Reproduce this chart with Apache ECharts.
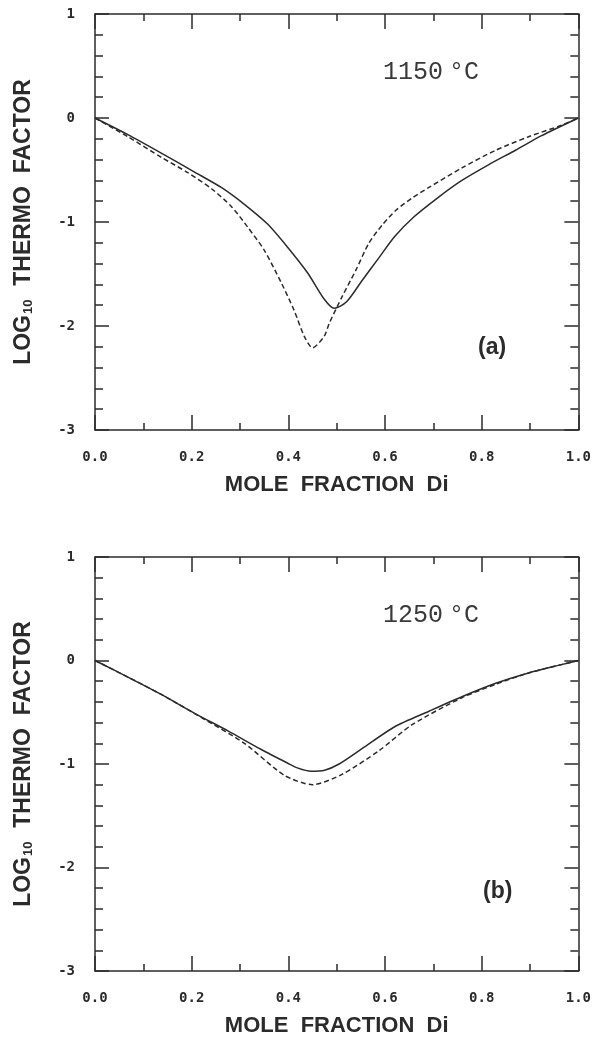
<!DOCTYPE html>
<html>
<head>
<meta charset="utf-8">
<script src="https://cdn.jsdelivr.net/npm/echarts@6/dist/echarts.min.js"></script>
<style>
  html, body { margin: 0; padding: 0; background: #fff; }
  #chart { width: 594px; height: 1039px; }
</style>
</head>
<body>
<div id="chart"></div>
<script>
// panel (a) 1150 C
const aSolidX = [0, 0.068, 0.138, 0.206, 0.262, 0.309, 0.357, 0.398, 0.44, 0.474, 0.495, 0.52, 0.553, 0.588, 0.62, 0.66, 0.711, 0.759, 0.814, 0.87, 0.924, 1.0];
const aSolidY = [0, -0.16, -0.34, -0.52, -0.67, -0.83, -1.02, -1.24, -1.49, -1.74, -1.83, -1.77, -1.56, -1.34, -1.14, -0.95, -0.76, -0.60, -0.45, -0.31, -0.17, 0];
const aDashX = [0, 0.068, 0.138, 0.19, 0.241, 0.282, 0.316, 0.35, 0.386, 0.412, 0.433, 0.45, 0.474, 0.485, 0.511, 0.54, 0.567, 0.594, 0.623, 0.656, 0.69, 0.759, 0.829, 0.897, 0.965, 1.0];
const aDashY = [0, -0.18, -0.38, -0.52, -0.68, -0.85, -1.05, -1.27, -1.59, -1.85, -2.10, -2.21, -2.10, -1.97, -1.72, -1.46, -1.20, -1.03, -0.885, -0.77, -0.67, -0.48, -0.31, -0.18, -0.07, 0];

// panel (b) 1250 C
const bSolidX = [0, 0.068, 0.138, 0.206, 0.275, 0.344, 0.398, 0.42, 0.447, 0.475, 0.505, 0.553, 0.62, 0.691, 0.759, 0.829, 0.897, 0.965, 1.0];
const bSolidY = [0, -0.16, -0.33, -0.51, -0.68, -0.86, -0.99, -1.04, -1.07, -1.06, -1.00, -0.85, -0.64, -0.49, -0.35, -0.22, -0.12, -0.04, 0];
const bDashX = [0, 0.068, 0.138, 0.227, 0.309, 0.392, 0.45, 0.511, 0.588, 0.656, 0.759, 0.829, 0.897, 0.965, 1.0];
const bDashY = [0, -0.16, -0.33, -0.57, -0.80, -1.11, -1.20, -1.10, -0.87, -0.62, -0.36, -0.23, -0.12, -0.04, 0];

const xTicks = [0, 0.2, 0.4, 0.6, 0.8, 1.0];
const yTicks = [-3, -2, -1, 0, 1];
const xName = 'MOLE  FRACTION  Di';
const yName = '{m|LOG}{s|10}{m|  THERMO  FACTOR}';
const tempValues = ['1150', '1250'];
const panelLabels = ['(a)', '(b)'];

const zip = (xs, ys) => xs.map((x, i) => [x, ys[i]]);
const ink = '#2b2b2b';
const monoFont = 'DejaVu Sans Mono';

var myChart = echarts.init(document.getElementById('chart'));

const grids = [
	{ left: 95, right: 15, top: 14, height: 416 },
	{ left: 95, right: 15, top: 557, height: 414 }
];

function xAxisFor(gi, pos) {
	let main = pos === 'bottom';
	return {
		type: 'value',
		gridIndex: gi,
		position: pos,
		min: xTicks[0],
		max: xTicks[xTicks.length - 1],
		interval: 0.2,
		name: main ? xName : '',
		nameLocation: 'middle',
		nameGap: 44,
		nameTextStyle: {
			color: ink,
			fontFamily: 'Liberation Sans',
			fontWeight: 'bold',
			fontSize: 22
		},
		axisLine: { onZero: false, lineStyle: { color: ink, width: 1.5 } },
		axisTick: { inside: true, length: 15, lineStyle: { color: ink, width: 1.5 } },
		minorTick: { show: true, splitNumber: 2, length: 7, lineStyle: { color: ink, width: 1.5 } },
		axisLabel: {
			show: main,
			margin: 20,
			color: ink,
			fontFamily: monoFont,
			fontWeight: 'bold',
			fontSize: 14,
			formatter: v => v.toFixed(1)
		},
		splitLine: { show: false }
	};
}

function yAxisFor(gi, pos) {
	let main = pos === 'left';
	return {
		type: 'value',
		gridIndex: gi,
		position: pos,
		min: yTicks[0],
		max: yTicks[yTicks.length - 1],
		interval: 1,
		name: main ? yName : '',
		nameLocation: 'middle',
		nameGap: 60,
		nameTextStyle: {
			color: ink,
			rich: {
				m: { fontFamily: 'Liberation Sans', fontWeight: 'bold', fontSize: 23, color: ink },
				s: { fontFamily: 'Liberation Sans', fontWeight: 'bold', fontSize: 13, color: ink, padding: [9, 1, 0, 1] }
			}
		},
		axisLine: { onZero: false, lineStyle: { color: ink, width: 1.5 } },
		axisTick: { inside: true, length: 14, lineStyle: { color: ink, width: 1.5 } },
		minorTick: { show: true, splitNumber: 5, length: 8, lineStyle: { color: ink, width: 1.5 } },
		axisLabel: {
			show: main,
			margin: 20,
			color: ink,
			fontFamily: monoFont,
			fontWeight: 'bold',
			fontSize: 14,
			formatter: v => String(v)
		},
		splitLine: { show: false }
	};
}

function lineSeries(name, xi, yi, xs, ys, dashed) {
	return {
		name: name,
		type: 'line',
		xAxisIndex: xi,
		yAxisIndex: yi,
		smooth: 0.25,
		showSymbol: false,
		lineStyle: {
			color: ink,
			width: 1.5,
			type: dashed ? [5, 3] : 'solid'
		},
		data: zip(xs, ys)
	};
}

function tempText(t, top) {
	return {
		type: 'text', left: 383, top: top,
		style: {
			text: '{t|' + t + '}{sp| }{d|°C}',
			rich: {
				t: { fontFamily: 'Liberation Mono', fontSize: 25, fill: '#3a3a3a', color: '#3a3a3a' },
				sp: { fontFamily: 'Liberation Mono', fontSize: 10 },
				d: { fontFamily: 'Liberation Mono', fontSize: 25, fill: '#3a3a3a', color: '#3a3a3a' }
			}
		}
	};
}

option = {
	animation: false,
	backgroundColor: '#fff',
	grid: grids,
	xAxis: [xAxisFor(0, 'bottom'), xAxisFor(0, 'top'), xAxisFor(1, 'bottom'), xAxisFor(1, 'top')],
	yAxis: [yAxisFor(0, 'left'), yAxisFor(0, 'right'), yAxisFor(1, 'left'), yAxisFor(1, 'right')],
	graphic: [
		tempText(tempValues[0], 60),
		tempText(tempValues[1], 603),
		{ type: 'text', left: 478, top: 336, style: { text: panelLabels[0], font: 'bold 23px "Liberation Sans"', fill: ink } },
		{ type: 'text', left: 483, top: 880, style: { text: panelLabels[1], font: 'bold 23px "Liberation Sans"', fill: ink } }
	],
	series: [
		lineSeries('a solid', 0, 0, aSolidX, aSolidY, false),
		lineSeries('a dashed', 0, 0, aDashX, aDashY, true),
		lineSeries('b solid', 2, 2, bSolidX, bSolidY, false),
		lineSeries('b dashed', 2, 2, bDashX, bDashY, true)
	]
};
myChart.setOption(option);
</script>
</body>
</html>
